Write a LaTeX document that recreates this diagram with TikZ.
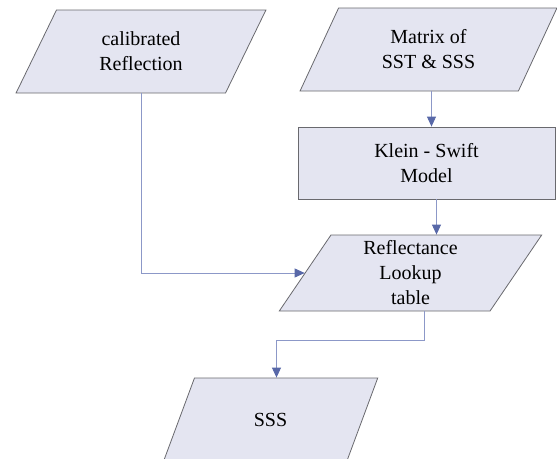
\documentclass[tikz,border=0pt]{standalone}
\usepackage{fontspec}
\setmainfont{Liberation Serif}
\usetikzlibrary{shapes.geometric,arrows.meta}
\definecolor{boxfill}{RGB}{228,229,241}
\definecolor{boxline}{RGB}{105,105,110}
\definecolor{linkline}{RGB}{140,152,200}
\definecolor{linkhead}{RGB}{88,104,168}

\begin{document}
\begin{tikzpicture} [x=1pt, y=-1pt,
 every node/.style = {draw=boxline, fill=boxfill, line width=0.8pt, align=center,
 font=\fontsize{20}{25}\selectfont, inner sep=0pt},
 data/.style = {shape=trapezium, trapezium left angle=63, trapezium right angle=117,
 trapezium stretches=true, minimum height=83pt},
 process/.style = {shape=rectangle, minimum width=257pt, minimum height=72pt},
 link/.style = {draw=linkline, line width=0.9pt,
 -{Triangle[length=10pt, width=9pt, color=linkhead]}}]
 \useasboundingbox (0,0) rectangle (557,458);
 \clip (0,0) rectangle (557,458);
 \node (calib)[data, minimum width=250pt] at (141,51.5) {calibrated\\Reflection};
 \node (matrix)[data, minimum width=257pt] at (428.5,49.5) {Matrix of\\SST \& SSS};
 \node (klein)[process] at (426.5,163) {Klein - Swift\\Model};
 \node (lookup)[data, trapezium left angle=64.5, trapezium right angle=115.5,
 minimum width=263pt, minimum height=76pt] at (410.5,273) {Reflectance\\Lookup\\table};
 \node (sss)[data, minimum width=215pt, minimum height=84pt] at (270.5,420) {SSS};
% connectors
 \draw [link] (calib.center |- calib.south) |- (lookup.west);
 \draw [link] ([xshift=3pt]matrix.center |- matrix.south) -- ([xshift=3pt]matrix.center |- klein.north);
 \draw [link] ([xshift=10pt]klein.south) -- ([xshift=10pt]klein.south |- lookup.north);
 \draw [link] ([xshift=14pt]lookup.center |- lookup.south) -- ++(0,29) -| ([xshift=6pt]sss.center |- sss.north);
\end{tikzpicture}
\end{document}
